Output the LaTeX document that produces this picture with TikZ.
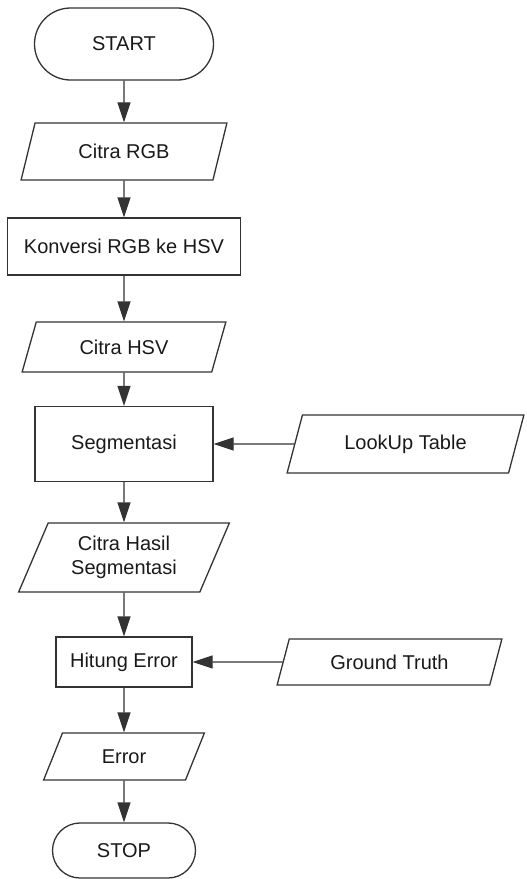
\documentclass[tikz,border=0pt]{standalone}
\usepackage{fontspec}
\setmainfont{Liberation Sans}
\usetikzlibrary{arrows.meta, shapes.geometric, shapes.misc}

\begin{document}
\begin{tikzpicture}[x=1pt, y=1pt, >={Triangle[length=20pt, width=13pt]},
		every node/.style={font=\fontsize{20}{23.5}\selectfont, text=black!90, inner sep=0pt},
		outline/.style={draw=black!80, line width=1.3pt},
		terminal/.style={outline, rounded rectangle},
		process/.style={outline, rectangle},
		data/.style={outline, trapezium, trapezium left angle=64, trapezium right angle=116, trapezium stretches=true, align=center},
		flow/.style={outline, ->}]
	\useasboundingbox (0,0) rectangle (527,-879);
	
	% main column
	\node[terminal, minimum width=179, minimum height=72] (start) at (124,-44) {START};
	\node[data, minimum width=206, minimum height=57] (rgb) at (124,-151.5) {Citra RGB};
	\node[process, minimum width=233, minimum height=57] (conv) at (124,-246.5) {Konversi RGB ke HSV};
	\node[data, minimum width=204, minimum height=50] (hsv) at (124,-347) {Citra HSV};
	\node[process, minimum width=178, minimum height=75] (seg) at (124,-444) {Segmentasi};
	\node[data, minimum width=211, minimum height=69] (hasil) at (124,-557.5) {Citra Hasil\\Segmentasi};
	\node[process, minimum width=136, minimum height=50] (hitung) at (124,-662) {Hitung Error};
	\node[data, minimum width=161, minimum height=47] (err) at (124,-756.5) {Error};
	\node[terminal, minimum width=143, minimum height=55] (stop) at (124,-850.5) {STOP};
	
	% side inputs
	\node[data, minimum width=237, minimum height=58] (lut) at (405.5,-444) {LookUp Table};
	\node[data, minimum width=225, minimum height=46] (gt) at (389.5,-662) {Ground Truth};
	
	\draw[flow] (start) -- (rgb);
	\draw[flow] (rgb) -- (conv);
	\draw[flow] (conv) -- (hsv);
	\draw[flow] (hsv) -- (seg);
	\draw[flow] (seg) -- (hasil);
	\draw[flow] (hasil) -- (hitung);
	\draw[flow] (hitung) -- (err);
	\draw[flow] (err) -- (stop);
	\draw[flow] (lut) -- (seg);
	\draw[flow] (gt) -- (hitung);
\end{tikzpicture}
\end{document}
